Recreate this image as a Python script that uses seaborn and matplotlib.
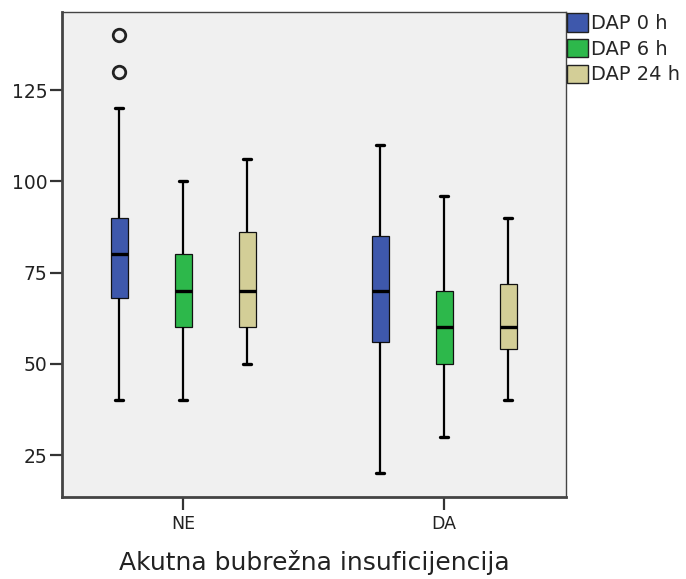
import numpy as np
import pandas as pd
import seaborn as sns
import matplotlib.pyplot as plt
from matplotlib.patches import Patch

groups = ["NE", "DA"]
series = ["DAP 0 h", "DAP 6 h", "DAP 24 h"]
colors = ["#3E58AC", "#2DB84B", "#D3CE97"]

# summary values, [group][series]
whisker_low = [[40, 40, 50], [20, 30, 40]]
q1 = [[68, 60, 60], [56, 50, 54]]
median = [[80, 70, 70], [70, 60, 60]]
q3 = [[90, 80, 86], [85, 70, 72]]
whisker_high = [[120, 100, 106], [110, 96, 90]]
outliers = [[[130, 140], [], []], [[], [], []]]

# long-form table whose quartiles reproduce the summary values
rows = []
m = 20
for gi, g in enumerate(groups):
    for si, s in enumerate(series):
        vals = ([whisker_low[gi][si]] + [q1[gi][si]] * m + [median[gi][si]] * m
                + [q3[gi][si]] * m + [whisker_high[gi][si]] + outliers[gi][si])
        for v in vals:
            rows.append({"group": g, "series": s, "value": v})
df = pd.DataFrame(rows)

sns.set_style("white")
plt.rcParams['font.family'] = ['DejaVu Sans']

fig = plt.figure(figsize=(6.86, 5.79), dpi=100)
ax = fig.add_axes([62 / 686, 82 / 579, 504 / 686, 485 / 579])
ax.set_facecolor("#F0F0F0")

sns.boxplot(data=df, x="group", y="value", hue="series", order=groups,
            hue_order=series, palette=colors, width=0.735, gap=0.735,
            linecolor="#111111", linewidth=0.9, legend=False, ax=ax,
            saturation=1,
            medianprops=dict(linewidth=2.4, color="black"),
            whiskerprops=dict(linewidth=1.6, color="black"),
            capprops=dict(linewidth=2.4, color="black"),
            flierprops=dict(marker="o", markerfacecolor="none",
                            markeredgecolor="#222222", markersize=9,
                            markeredgewidth=2))

ax.set_xlim(-0.464, 1.467)
ax.set_ylim(13.5, 146.4)
ax.set_yticks([25, 50, 75, 100, 125])
ax.set_yticklabels(["25", "50", "75", "100", "125"])
ax.set_ylabel("")
ax.set_xlabel("Akutna bubrežna insuficijencija", fontsize=18, color="#222222",
              labelpad=12)
ax.tick_params(axis="both", left=True, bottom=True, direction="out",
               length=9, width=1.6, color="#333333", labelcolor="#222222")
ax.tick_params(axis="y", labelsize=13.5, pad=1.5)
ax.tick_params(axis="x", labelsize=12.5, pad=4)
for name, sp in ax.spines.items():
    sp.set_visible(True)
    sp.set_color("#444444")
    sp.set_linewidth(2 if name in ("left", "bottom") else 1)

handles = [Patch(facecolor=c, edgecolor="#222222", linewidth=1, label=s)
           for c, s in zip(colors, series)]
fig.legend(handles=handles, loc="upper left",
           bbox_to_anchor=(567 / 686, 1 - 13 / 579),
           frameon=False, fontsize=14, handlelength=1.1, handleheight=1.1,
           handletextpad=0.15, labelspacing=0.3, borderaxespad=0, borderpad=0.0)

fig.savefig("out.png", dpi=100)
